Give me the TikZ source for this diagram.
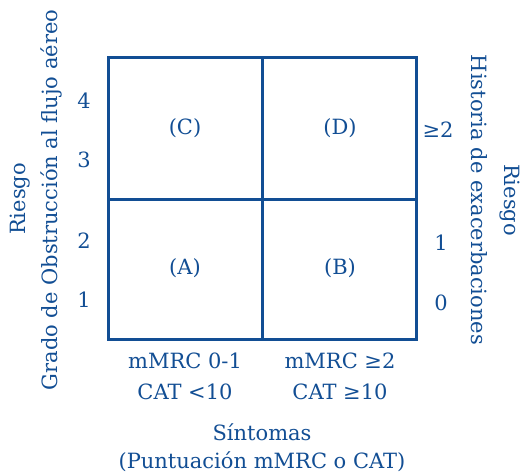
\documentclass[tikz,border=0pt]{standalone}
\usepackage{fontspec}
\setmainfont{DejaVu Serif}
\definecolor{goldblue}{RGB}{18,78,148}
\begin{document}
\begin{tikzpicture}[x=1pt,y=-1pt,
  lbl/.style={text=goldblue,font=\fontsize{21}{24}\selectfont,inner sep=0pt},
  frame/.style={draw=goldblue,line width=3pt}]
\useasboundingbox (0,0) rectangle (520,473);
\draw[frame] (108,58) rectangle (416,340);
\draw[frame] (262,58) -- (262,340);
\draw[frame] (108,200) -- (416,200);
\node[lbl] (c) at (185,128) {(C)};
\node[lbl] (d) at (340,128) {(D)};
\node[lbl] (a) at (185,268) {(A)};
\node[lbl] (b) at (340,268) {(B)};
\node[lbl] (l4) at (84,101) {4};
\node[lbl] (l3) at (84,160) {3};
\node[lbl] (l2) at (84,241) {2};
\node[lbl] (l1) at (84,300) {1};
\node[lbl] (r2) at (438,130) {≥2};
\node[lbl] (r1) at (441,243) {1};
\node[lbl] (r0) at (441,303) {0};
\node[lbl,rotate=90] (riskl) at (20,199) {Riesgo};
\node[lbl,rotate=90] (gof) at (51,200) {Grado de Obstrucción al flujo aéreo};
\node[lbl,rotate=-90] (hist) at (479,200) {Historia de exacerbaciones};
\node[lbl,rotate=-90] (riskr) at (510,200) {Riesgo};
\node[lbl] (m1) at (185,361) {mMRC 0-1};
\node[lbl] (c1) at (185,392) {CAT <10};
\node[lbl] (m2) at (340,361) {mMRC ≥2};
\node[lbl] (c2) at (340,392) {CAT ≥10};
\node[lbl] (sint) at (262,432) {Síntomas};
\node[lbl] (punt) at (262,462) {(Puntuación mMRC o CAT)};
\end{tikzpicture}
\end{document}
